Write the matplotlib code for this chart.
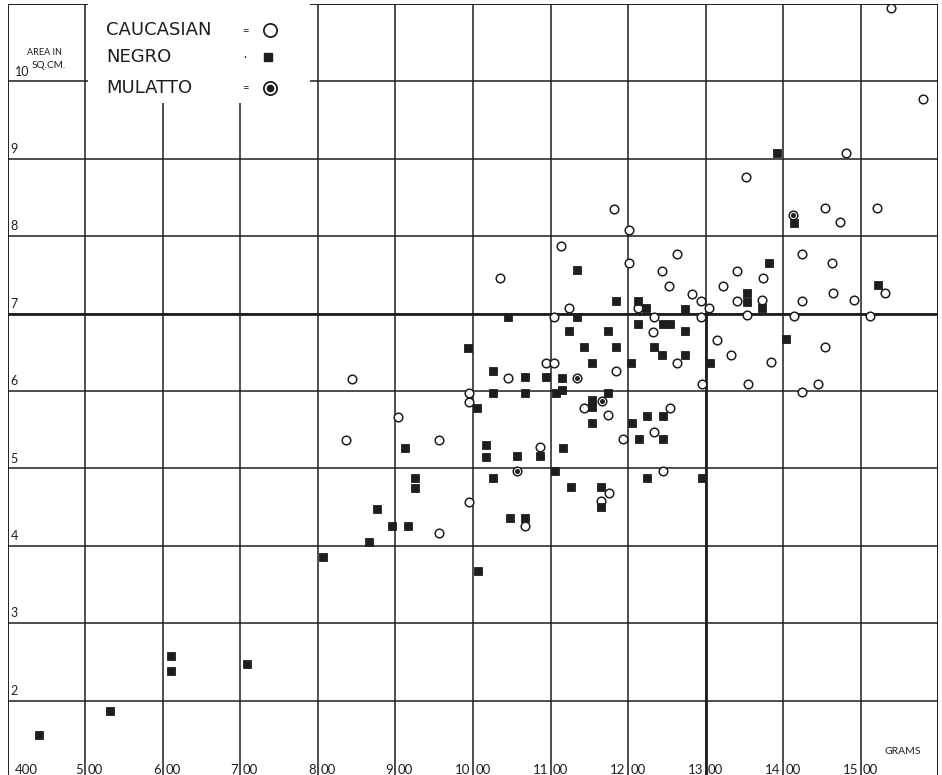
import matplotlib
matplotlib.use("Agg")
import matplotlib.pyplot as plt
from matplotlib.patches import Rectangle

# Weight of brain (grams) against area (sq. cm.)
caucasian_g = [1539, 1581, 1481, 1352, 1454, 1521, 1474, 1182, 1201, 1114,
               1035, 1201, 1263, 1244, 1253, 1283, 1323, 1341, 1341, 1294,
               1305, 1425, 1463, 1374, 1373, 1425, 1465, 1492, 1532, 1354,
               1414, 1512, 1315, 1333, 1385, 1454, 1295, 1355, 1445, 1425,
               1124, 1105, 1213, 1234, 1294, 1232, 1263, 1184, 1094, 1105,
               1045, 995, 995, 844, 903, 836, 956, 1086, 995, 956,
               1067, 1143, 1174, 1254, 1234, 1194, 1245, 1176, 1165]
caucasian_area = [10.95, 9.77, 9.07, 8.76, 8.36, 8.36, 8.18, 8.35, 8.08, 7.87,
                  7.46, 7.66, 7.77, 7.55, 7.36, 7.25, 7.36, 7.55, 7.16, 7.16,
                  7.07, 7.77, 7.66, 7.46, 7.17, 7.16, 7.26, 7.17, 7.26, 6.98,
                  6.97, 6.97, 6.66, 6.46, 6.37, 6.57, 6.09, 6.09, 6.09, 5.99,
                  7.07, 6.96, 7.07, 6.96, 6.96, 6.76, 6.36, 6.26, 6.36, 6.36,
                  6.17, 5.97, 5.86, 6.16, 5.66, 5.37, 5.37, 5.28, 4.57, 4.16,
                  4.26, 5.78, 5.69, 5.78, 5.47, 5.38, 4.97, 4.68, 4.58]

negro_g = [440, 532, 610, 610, 708, 806, 866, 876, 895, 916,
           912, 925, 925, 1006, 994, 1005, 1017, 1017, 1026, 1026,
           1026, 1045, 1048, 1067, 1067, 1067, 1057, 1086, 1094, 1107,
           1115, 1115, 1106, 1116, 1126, 1134, 1134, 1124, 1143, 1154,
           1154, 1154, 1154, 1165, 1165, 1174, 1174, 1184, 1184, 1204,
           1205, 1213, 1213, 1214, 1223, 1224, 1224, 1234, 1244, 1245,
           1254, 1245, 1245, 1274, 1274, 1274, 1295, 1306, 1353, 1353,
           1373, 1382, 1392, 1404, 1414, 1523]
negro_area = [1.56, 1.86, 2.57, 2.38, 2.47, 3.86, 4.05, 4.47, 4.25, 4.25,
              5.26, 4.88, 4.75, 3.67, 6.56, 5.78, 5.30, 5.15, 6.26, 5.97,
              4.88, 6.96, 4.36, 6.18, 5.97, 4.36, 5.16, 5.16, 6.18, 5.97,
              6.17, 6.01, 4.97, 5.26, 4.76, 7.56, 6.96, 6.77, 6.57, 6.36,
              5.88, 5.79, 5.59, 4.76, 4.50, 6.77, 5.97, 7.16, 6.57, 6.36,
              5.59, 7.16, 6.87, 5.38, 7.07, 5.68, 4.88, 6.57, 6.46, 6.87,
              6.87, 5.68, 5.38, 7.06, 6.77, 6.46, 4.88, 6.36, 7.26, 7.15,
              7.07, 7.66, 9.07, 6.67, 8.17, 7.37]

mulatto_g = [1057, 1134, 1166, 1413]
mulatto_area = [4.97, 6.17, 5.87, 8.27]

x_grid = list(range(400, 1601, 100))
y_grid = list(range(1, 12))
x_tick_labels = ["400", "5|00", "6|00", "7|00", "8|00", "9|00", "10|00",
                 "11|00", "12|00", "13|00", "14|00", "15|00"]
y_tick_labels = ["2", "3", "4", "5", "6", "7", "8", "9", "10"]

INK = "#1e1e1e"
FONT = ["Lato", "DejaVu Sans"]
KEY_FONT = ["DejaVu Sans"]

W, H = 942, 775
fig = plt.figure(figsize=(W / 100, H / 100), dpi=100)
fig.patch.set_facecolor("white")

# axes: 400 g at x=8 px, 1600 g at x=938 px; 11 at y=4 px, 1 at y=778 px
left, right = 8 / W, 938 / W
top, bottom = 1 - 4 / H, 1 - 778 / H
ax = fig.add_axes([left, bottom, right - left, top - bottom])
ax.set_xlim(400, 1600)
ax.set_ylim(1, 11)
ax.set_axis_off()

# grid
for xv in x_grid[1:]:
    ax.vlines(xv, 1, 11, color=INK, lw=1.1, zorder=1)
ax.vlines(1300, 1, 7, color=INK, lw=2.0, zorder=1)
for yv in y_grid[1:-1]:
    ax.hlines(yv, 400, 1600, color=INK, lw=1.1, zorder=1)
ax.hlines(7, 400, 1600, color=INK, lw=2.0, zorder=1)
# frame
ax.vlines([400, 1600], 1, 11, color=INK, lw=1.4, zorder=1)
ax.hlines(11, 400, 1600, color=INK, lw=1.4, zorder=1)

# blank panel behind the key
ax.add_patch(Rectangle((503, 9.72), 287, 1.3, facecolor="white",
                       edgecolor="none", zorder=2))

# y labels sit just above their lines
for yv, lab in zip(y_grid[1:-1], y_tick_labels):
    xpos = 409 if lab == "10" else 403
    ax.text(xpos, yv + 0.05, lab, fontsize=9, color=INK, family=FONT,
            ha="left", va="bottom", zorder=3)
ax.text(424, 10.37, "AREA IN", fontsize=6.5, color=INK, family=FONT,
        ha="left", va="center", zorder=3)
ax.text(430, 10.21, "SQ.CM.", fontsize=7.2, color=INK, family=FONT,
        ha="left", va="center", zorder=3)

# x labels split by the grid line
for xv, lab in zip(x_grid, x_tick_labels):
    if "|" in lab:
        a, b = lab.split("|")
        ax.text(xv - 3, 1.10, a, fontsize=9.5, color=INK, family=FONT,
                ha="right", va="center", zorder=3)
        ax.text(xv + 3, 1.10, b, fontsize=9.5, color=INK, family=FONT,
                ha="left", va="center", zorder=3)
    else:
        ax.text(xv + 9, 1.10, lab, fontsize=9.5, color=INK, family=FONT,
                ha="left", va="center", zorder=3)
ax.text(1555, 1.34, "GRAMS", fontsize=7.5, color=INK, family=FONT,
        ha="center", va="center", zorder=3)

# data
ax.plot(caucasian_g, caucasian_area, ls="none", marker="o", ms=6.2,
        mfc="white", mec=INK, mew=1.1, zorder=4)
ax.plot(negro_g, negro_area, ls="none", marker="s", ms=5.8,
        mfc=INK, mec=INK, mew=0.6, zorder=5)
ax.plot(mulatto_g, mulatto_area, ls="none", marker="o", ms=6.2,
        mfc="white", mec=INK, mew=1.1, zorder=6)
ax.plot(mulatto_g, mulatto_area, ls="none", marker="o", ms=2.6,
        mfc=INK, mec=INK, zorder=7)

# key
key_rows = [("CAUCASIAN", "=", 10.66), ("NEGRO", "·", 10.31), ("MULATTO", "=", 9.92)]
for name, sep, yk in key_rows:
    ax.text(527, yk, name, fontsize=13, color=INK, family=KEY_FONT,
            ha="left", va="center", zorder=3)
    ax.text(706, yk, sep, fontsize=8, color=INK, family=FONT,
            ha="center", va="center", zorder=3)
ax.plot([738], [10.66], marker="o", ms=9.5, mfc="white", mec=INK, mew=1.3, zorder=4)
ax.plot([735], [10.31], marker="s", ms=6, mfc=INK, mec=INK, zorder=4)
ax.plot([738], [9.92], marker="o", ms=9.5, mfc="white", mec=INK, mew=1.3, zorder=4)
ax.plot([738], [9.92], marker="o", ms=4.5, mfc=INK, mec=INK, zorder=5)

fig.savefig("out.png", dpi=100, facecolor="white")
